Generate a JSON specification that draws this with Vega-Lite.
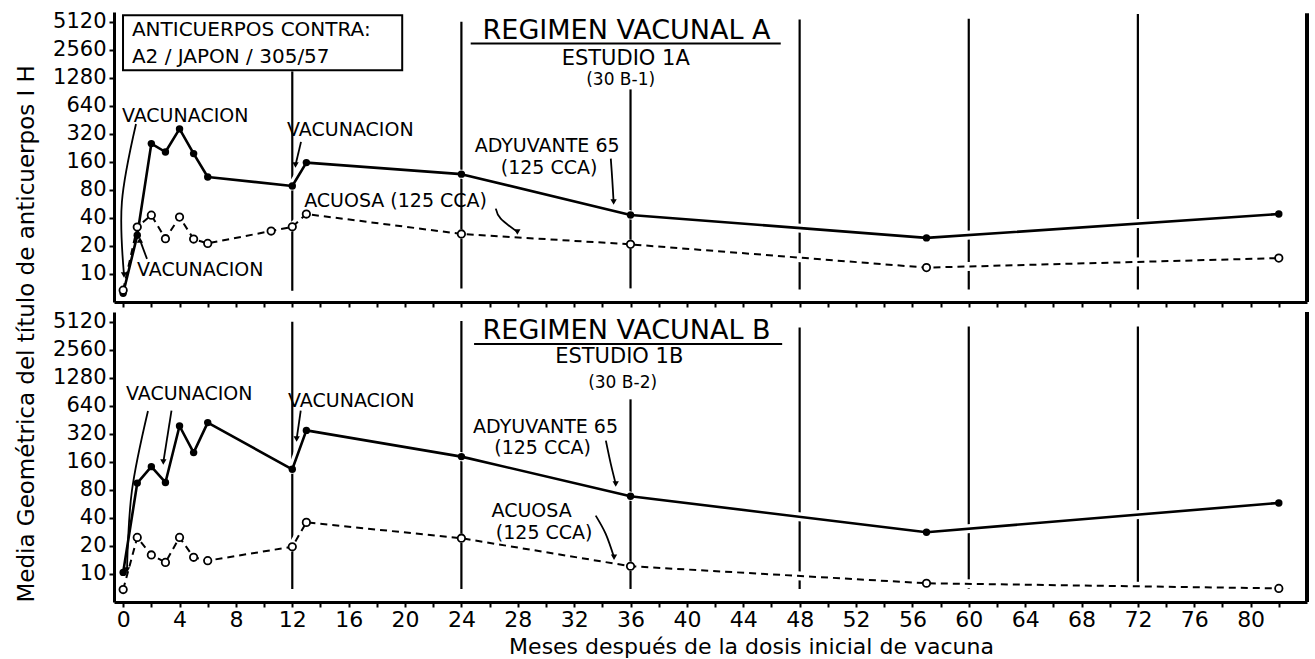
{
  "$schema": "https://vega.github.io/schema/vega-lite/v6.json",
  "background": "white",
  "padding": {"left": 15, "top": 10, "right": 5, "bottom": 3},
  "title": {"text": "Media Geométrica del título de anticuerpos I H", "orient": "left", "anchor": "middle", "fontSize": 23, "fontWeight": "normal", "font": "DejaVu Sans", "color": "black", "offset": 14},
  "spacing": 2,
  "datasets": {
    "series": [
      {"panel": "A", "group": "Adyuvante", "month": 0, "titer": 6.2},
      {"panel": "A", "group": "Adyuvante", "month": 1, "titer": 26},
      {"panel": "A", "group": "Adyuvante", "month": 2, "titer": 251},
      {"panel": "A", "group": "Adyuvante", "month": 3, "titer": 204},
      {"panel": "A", "group": "Adyuvante", "month": 4, "titer": 361},
      {"panel": "A", "group": "Adyuvante", "month": 5, "titer": 196},
      {"panel": "A", "group": "Adyuvante", "month": 6, "titer": 110},
      {"panel": "A", "group": "Adyuvante", "month": 12, "titer": 88},
      {"panel": "A", "group": "Adyuvante", "month": 13, "titer": 157},
      {"panel": "A", "group": "Adyuvante", "month": 24, "titer": 118},
      {"panel": "A", "group": "Adyuvante", "month": 36, "titer": 43},
      {"panel": "A", "group": "Adyuvante", "month": 57, "titer": 24.4},
      {"panel": "A", "group": "Adyuvante", "month": 82, "titer": 44},
      {"panel": "A", "group": "Acuosa", "month": 0, "titer": 6.7},
      {"panel": "A", "group": "Acuosa", "month": 1, "titer": 31.9},
      {"panel": "A", "group": "Acuosa", "month": 2, "titer": 42.8},
      {"panel": "A", "group": "Acuosa", "month": 3, "titer": 23.9},
      {"panel": "A", "group": "Acuosa", "month": 4, "titer": 40.8},
      {"panel": "A", "group": "Acuosa", "month": 5, "titer": 23.7},
      {"panel": "A", "group": "Acuosa", "month": 6, "titer": 21.3},
      {"panel": "A", "group": "Acuosa", "month": 10.5, "titer": 28.9},
      {"panel": "A", "group": "Acuosa", "month": 12, "titer": 32.1},
      {"panel": "A", "group": "Acuosa", "month": 13, "titer": 44},
      {"panel": "A", "group": "Acuosa", "month": 24, "titer": 26.9},
      {"panel": "A", "group": "Acuosa", "month": 36, "titer": 20.8},
      {"panel": "A", "group": "Acuosa", "month": 57, "titer": 11.7},
      {"panel": "A", "group": "Acuosa", "month": 82, "titer": 14.8},
      {"panel": "B", "group": "Adyuvante", "month": 0, "titer": 10.4},
      {"panel": "B", "group": "Adyuvante", "month": 1, "titer": 94.5},
      {"panel": "B", "group": "Adyuvante", "month": 2, "titer": 142},
      {"panel": "B", "group": "Adyuvante", "month": 3, "titer": 96},
      {"panel": "B", "group": "Adyuvante", "month": 4, "titer": 388},
      {"panel": "B", "group": "Adyuvante", "month": 5, "titer": 201},
      {"panel": "B", "group": "Adyuvante", "month": 6, "titer": 422},
      {"panel": "B", "group": "Adyuvante", "month": 12, "titer": 133},
      {"panel": "B", "group": "Adyuvante", "month": 13, "titer": 348},
      {"panel": "B", "group": "Adyuvante", "month": 24, "titer": 182},
      {"panel": "B", "group": "Adyuvante", "month": 36, "titer": 68.3},
      {"panel": "B", "group": "Adyuvante", "month": 57, "titer": 28.1},
      {"panel": "B", "group": "Adyuvante", "month": 82, "titer": 57.9},
      {"panel": "B", "group": "Acuosa", "month": 0, "titer": 6.8},
      {"panel": "B", "group": "Acuosa", "month": 1, "titer": 24.7},
      {"panel": "B", "group": "Acuosa", "month": 2, "titer": 16},
      {"panel": "B", "group": "Acuosa", "month": 3, "titer": 13.3},
      {"panel": "B", "group": "Acuosa", "month": 4, "titer": 24.7},
      {"panel": "B", "group": "Acuosa", "month": 5, "titer": 15.1},
      {"panel": "B", "group": "Acuosa", "month": 6, "titer": 13.9},
      {"panel": "B", "group": "Acuosa", "month": 12, "titer": 19.6},
      {"panel": "B", "group": "Acuosa", "month": 13, "titer": 35.8},
      {"panel": "B", "group": "Acuosa", "month": 24, "titer": 24.2},
      {"panel": "B", "group": "Acuosa", "month": 36, "titer": 12.1},
      {"panel": "B", "group": "Acuosa", "month": 57, "titer": 7.95},
      {"panel": "B", "group": "Acuosa", "month": 82, "titer": 7.0}
    ],
    "vlines": [
      {"panel": "A", "month": 12, "titer": 1496, "titer2": 6.6},
      {"panel": "A", "month": 24, "titer": 5100, "titer2": 7},
      {"panel": "A", "month": 36, "titer": 959, "titer2": 7},
      {"panel": "A", "month": 48, "titer": 5400, "titer2": 6.8},
      {"panel": "A", "month": 60, "titer": 5500, "titer2": 6.8},
      {"panel": "A", "month": 72, "titer": 6200, "titer2": 6.8},
      {"panel": "B", "month": 12, "titer": 5120, "titer2": 6.9},
      {"panel": "B", "month": 24, "titer": 5200, "titer2": 6.9},
      {"panel": "B", "month": 36, "titer": 750, "titer2": 6.9},
      {"panel": "B", "month": 48, "titer": 4430, "titer2": 6.9},
      {"panel": "B", "month": 60, "titer": 4540, "titer2": 6.9},
      {"panel": "B", "month": 72, "titer": 4540, "titer2": 6.9}
    ],
    "frame": [
      {"panel": "A", "month": 84, "titer": 6300, "titer2": 5},
      {"panel": "B", "month": 84, "titer": 6500, "titer2": 5}
    ],
    "arrows": [
      {"panel": "A", "id": "A1", "seq": 1, "month": 0.91, "titer": 408},
      {"panel": "A", "id": "A1", "seq": 2, "month": -0.09, "titer": 59.3},
      {"panel": "A", "id": "A1", "seq": 3, "month": 0.06, "titer": 9.75},
      {"panel": "A", "id": "A2", "seq": 1, "month": 1.69, "titer": 14.5},
      {"panel": "A", "id": "A2", "seq": 2, "month": 1.19, "titer": 23.2},
      {"panel": "A", "id": "A3", "seq": 1, "month": 12.62, "titer": 262},
      {"panel": "A", "id": "A3", "seq": 2, "month": 12.23, "titer": 148},
      {"panel": "A", "id": "A4", "seq": 1, "month": 34.6, "titer": 173},
      {"panel": "A", "id": "A4", "seq": 2, "month": 34.7, "titer": 106},
      {"panel": "A", "id": "A4", "seq": 3, "month": 34.8, "titer": 59.3},
      {"panel": "A", "id": "A5", "seq": 1, "month": 26.44, "titer": 50.3},
      {"panel": "A", "id": "A5", "seq": 2, "month": 26.79, "titer": 39.2},
      {"panel": "A", "id": "A5", "seq": 3, "month": 27.97, "titer": 28.3},
      {"panel": "B", "id": "B1", "seq": 1, "month": 1.76, "titer": 563},
      {"panel": "B", "id": "B1", "seq": 2, "month": 0.62, "titer": 77.9},
      {"panel": "B", "id": "B1", "seq": 3, "month": 0.27, "titer": 11},
      {"panel": "B", "id": "B2", "seq": 1, "month": 3.43, "titer": 567},
      {"panel": "B", "id": "B2", "seq": 2, "month": 2.85, "titer": 159},
      {"panel": "B", "id": "B3", "seq": 1, "month": 12.6, "titer": 567},
      {"panel": "B", "id": "B3", "seq": 2, "month": 12.31, "titer": 282},
      {"panel": "B", "id": "B4", "seq": 1, "month": 34.25, "titer": 270},
      {"panel": "B", "id": "B4", "seq": 2, "month": 34.6, "titer": 152},
      {"panel": "B", "id": "B4", "seq": 3, "month": 34.95, "titer": 92.7},
      {"panel": "B", "id": "B5", "seq": 1, "month": 33.53, "titer": 42.3},
      {"panel": "B", "id": "B5", "seq": 2, "month": 34.24, "titer": 26.9},
      {"panel": "B", "id": "B5", "seq": 3, "month": 34.83, "titer": 15.1}
    ],
    "tips": [
      {"panel": "A", "dir": "down", "month": 0.06, "titer": 9.75},
      {"panel": "A", "dir": "up", "month": 1.19, "titer": 23.2},
      {"panel": "A", "dir": "down", "month": 12.23, "titer": 148},
      {"panel": "A", "dir": "down", "month": 34.8, "titer": 59.3},
      {"panel": "A", "dir": "down", "month": 27.97, "titer": 28.3},
      {"panel": "B", "dir": "down", "month": 0.27, "titer": 11},
      {"panel": "B", "dir": "down", "month": 2.85, "titer": 159},
      {"panel": "B", "dir": "down", "month": 12.31, "titer": 282},
      {"panel": "B", "dir": "down", "month": 34.95, "titer": 92.7},
      {"panel": "B", "dir": "down", "month": 34.83, "titer": 15.1}
    ],
    "notes": [
      {"panel": "A", "month": -0.09, "titer": 498, "text": "VACUNACION"},
      {"panel": "A", "month": 11.63, "titer": 348, "text": "VACUNACION"},
      {"panel": "A", "month": 0.98, "titer": 11.0, "text": "VACUNACION"},
      {"panel": "B", "month": 0.2, "titer": 847, "text": "VACUNACION"},
      {"panel": "B", "month": 11.7, "titer": 712, "text": "VACUNACION"}
    ],
    "boxtext": [
      {"panel": "A", "month": 0.62, "titer": 4143, "text": "ANTICUERPOS CONTRA:"},
      {"panel": "A", "month": 0.62, "titer": 2141, "text": "A2 / JAPON / 305/57"}
    ],
    "callouts": [
      {"panel": "A", "month": 30.08, "titer": 236, "text": "ADYUVANTE 65"},
      {"panel": "A", "month": 30.22, "titer": 138, "text": "(125 CCA)"},
      {"panel": "A", "month": 19.33, "titer": 60.8, "text": "ACUOSA (125 CCA)"},
      {"panel": "B", "month": 29.97, "titer": 378, "text": "ADYUVANTE 65"},
      {"panel": "B", "month": 29.76, "titer": 227, "text": "(125 CCA)"},
      {"panel": "B", "month": 28.98, "titer": 47.8, "text": "ACUOSA"},
      {"panel": "B", "month": 29.87, "titer": 27.6, "text": "(125 CCA)"}
    ],
    "headings": [
      {"panel": "A", "month": 35.72, "titer": 4023, "text": "REGIMEN VACUNAL A"},
      {"panel": "B", "month": 35.72, "titer": 4071, "text": "REGIMEN VACUNAL B"}
    ],
    "studies": [
      {"panel": "A", "month": 35.66, "titer": 2052, "text": "ESTUDIO 1A"},
      {"panel": "B", "month": 35.2, "titer": 2125, "text": "ESTUDIO 1B"}
    ],
    "codes": [
      {"panel": "A", "month": 35.3, "titer": 1212, "text": "(30 B-1)"},
      {"panel": "B", "month": 35.44, "titer": 1111, "text": "(30 B-2)"}
    ],
    "underlines": [
      {"panel": "A", "month": 24.66, "month2": 46.66, "titer": 2975},
      {"panel": "B", "month": 24.9, "month2": 46.76, "titer": 2953}
    ],
    "box": [
      {"panel": "A", "month": -0.01, "month2": 19.8, "titer": 6000, "titer2": 1541}
    ]
  },
  "vconcat": [
    {
      "width": 1193,
      "height": 290,
      "encoding": {
        "x": {"field": "month", "type": "quantitative", "scale": {"domain": [-0.65, 84], "nice": false, "zero": false},
              "axis": {"values": [0,2,4,6,8,10,12,14,16,18,20,22,24,26,28,30,32,34,36,38,40,42,44,46,48,50,52,54,56,58,60,62,64,66,68,70,72,74,76,78,80,82], "labels": false, "title": null}},
        "y": {"field": "titer", "type": "quantitative", "scale": {"type": "log", "domain": [5, 6500], "nice": false},
              "axis": {"values": [10,20,40,80,160,320,640,1280,2560,5120], "format": "d", "title": null}}
      },
      "layer": [
        {"data": {"name": "vlines"}, "transform": [{"filter": "datum.panel === 'A'"}], "mark": {"type": "rule", "strokeWidth": 2.2, "color": "black"}, "encoding": {"y2": {"field": "titer2"}}},
        {"data": {"name": "frame"}, "transform": [{"filter": "datum.panel === 'A'"}], "mark": {"type": "rule", "strokeWidth": 4, "color": "black"}, "encoding": {"y2": {"field": "titer2"}}},
        {"data": {"name": "series"}, "transform": [{"filter": "datum.panel === 'A'"}], "mark": {"type": "line", "strokeWidth": 9, "strokeJoin": "round", "color": "white"}, "encoding": {"detail": {"field": "group"}}},
        {"data": {"name": "series"}, "transform": [{"filter": "datum.panel === 'A' && datum.group === 'Adyuvante'"}], "mark": {"type": "line", "strokeWidth": 2.6, "color": "black", "strokeJoin": "round"}, "encoding": {}},
        {"data": {"name": "series"}, "transform": [{"filter": "datum.panel === 'A' && datum.group === 'Acuosa'"}], "mark": {"type": "line", "strokeWidth": 2, "color": "black", "strokeDash": [7, 5], "strokeJoin": "round"}, "encoding": {}},
        {"data": {"name": "series"}, "transform": [{"filter": "datum.panel === 'A' && datum.group === 'Adyuvante'"}], "mark": {"type": "point", "shape": "circle", "filled": true, "size": 55, "color": "black", "opacity": 1}, "encoding": {}},
        {"data": {"name": "series"}, "transform": [{"filter": "datum.panel === 'A' && datum.group === 'Acuosa'"}], "mark": {"type": "point", "shape": "circle", "filled": true, "fill": "white", "stroke": "black", "strokeWidth": 1.8, "size": 55, "opacity": 1}, "encoding": {}},
        {"data": {"name": "arrows"}, "transform": [{"filter": "datum.panel === 'A'"}], "mark": {"type": "line", "strokeWidth": 1.8, "color": "black", "interpolate": "cardinal", "strokeJoin": "round"}, "encoding": {"detail": {"field": "id"}, "order": {"field": "seq"}}},
        {"data": {"name": "tips"}, "transform": [{"filter": "datum.panel === 'A' && datum.dir === 'down'"}], "mark": {"type": "point", "shape": "triangle-down", "filled": true, "size": 40, "color": "black", "opacity": 1}, "encoding": {}},
        {"data": {"name": "tips"}, "transform": [{"filter": "datum.panel === 'A' && datum.dir === 'up'"}], "mark": {"type": "point", "shape": "triangle-up", "filled": true, "size": 40, "color": "black", "opacity": 1}, "encoding": {}},
        {"data": {"name": "box"}, "transform": [{"filter": "datum.panel === 'A'"}], "mark": {"type": "rect", "fill": "white", "stroke": "black", "strokeWidth": 2}, "encoding": {"x2": {"field": "month2"}, "y2": {"field": "titer2"}}},
        {"data": {"name": "underlines"}, "transform": [{"filter": "datum.panel === 'A'"}], "mark": {"type": "rule", "strokeWidth": 2, "color": "black"}, "encoding": {"x2": {"field": "month2"}}},
        {"data": {"name": "notes"}, "transform": [{"filter": "datum.panel === 'A'"}], "mark": {"type": "text", "align": "left", "baseline": "middle", "font": "DejaVu Sans", "fontSize": 19, "color": "black"}, "encoding": {"text": {"field": "text"}}},
        {"data": {"name": "boxtext"}, "transform": [{"filter": "datum.panel === 'A'"}], "mark": {"type": "text", "align": "left", "baseline": "middle", "font": "DejaVu Sans", "fontSize": 20, "color": "black"}, "encoding": {"text": {"field": "text"}}},
        {"data": {"name": "callouts"}, "transform": [{"filter": "datum.panel === 'A'"}], "mark": {"type": "text", "align": "center", "baseline": "middle", "font": "DejaVu Sans", "fontSize": 19, "color": "black"}, "encoding": {"text": {"field": "text"}}},
        {"data": {"name": "headings"}, "transform": [{"filter": "datum.panel === 'A'"}], "mark": {"type": "text", "align": "center", "baseline": "middle", "font": "DejaVu Sans", "fontSize": 27, "color": "black"}, "encoding": {"text": {"field": "text"}}},
        {"data": {"name": "studies"}, "transform": [{"filter": "datum.panel === 'A'"}], "mark": {"type": "text", "align": "center", "baseline": "middle", "font": "DejaVu Sans", "fontSize": 21, "color": "black"}, "encoding": {"text": {"field": "text"}}},
        {"data": {"name": "codes"}, "transform": [{"filter": "datum.panel === 'A'"}], "mark": {"type": "text", "align": "center", "baseline": "middle", "font": "DejaVu Sans", "fontSize": 17, "color": "black"}, "encoding": {"text": {"field": "text"}}}
      ]
    },
    {
      "width": 1193,
      "height": 290,
      "encoding": {
        "x": {"field": "month", "type": "quantitative", "scale": {"domain": [-0.65, 84], "nice": false, "zero": false},
              "axis": {"values": [0,2,4,6,8,10,12,14,16,18,20,22,24,26,28,30,32,34,36,38,40,42,44,46,48,50,52,54,56,58,60,62,64,66,68,70,72,74,76,78,80,82], "labelExpr": "datum.value % 4 === 0 ? datum.label : ''", "labelFontSize": 22, "labelPadding": 2, "title": "Meses después de la dosis inicial de vacuna", "titleFontSize": 22, "titlePadding": 6, "titleX": 637}},
        "y": {"field": "titer", "type": "quantitative", "scale": {"type": "log", "domain": [5, 6500], "nice": false},
              "axis": {"values": [10,20,40,80,160,320,640,1280,2560,5120], "format": "d", "title": null}}
      },
      "layer": [
        {"data": {"name": "vlines"}, "transform": [{"filter": "datum.panel === 'B'"}], "mark": {"type": "rule", "strokeWidth": 2.2, "color": "black"}, "encoding": {"y2": {"field": "titer2"}}},
        {"data": {"name": "frame"}, "transform": [{"filter": "datum.panel === 'B'"}], "mark": {"type": "rule", "strokeWidth": 4, "color": "black"}, "encoding": {"y2": {"field": "titer2"}}},
        {"data": {"name": "series"}, "transform": [{"filter": "datum.panel === 'B'"}], "mark": {"type": "line", "strokeWidth": 9, "strokeJoin": "round", "color": "white"}, "encoding": {"detail": {"field": "group"}}},
        {"data": {"name": "series"}, "transform": [{"filter": "datum.panel === 'B' && datum.group === 'Adyuvante'"}], "mark": {"type": "line", "strokeWidth": 2.6, "color": "black", "strokeJoin": "round"}, "encoding": {}},
        {"data": {"name": "series"}, "transform": [{"filter": "datum.panel === 'B' && datum.group === 'Acuosa'"}], "mark": {"type": "line", "strokeWidth": 2, "color": "black", "strokeDash": [7, 5], "strokeJoin": "round"}, "encoding": {}},
        {"data": {"name": "series"}, "transform": [{"filter": "datum.panel === 'B' && datum.group === 'Adyuvante'"}], "mark": {"type": "point", "shape": "circle", "filled": true, "size": 55, "color": "black", "opacity": 1}, "encoding": {}},
        {"data": {"name": "series"}, "transform": [{"filter": "datum.panel === 'B' && datum.group === 'Acuosa'"}], "mark": {"type": "point", "shape": "circle", "filled": true, "fill": "white", "stroke": "black", "strokeWidth": 1.8, "size": 55, "opacity": 1}, "encoding": {}},
        {"data": {"name": "arrows"}, "transform": [{"filter": "datum.panel === 'B'"}], "mark": {"type": "line", "strokeWidth": 1.8, "color": "black", "interpolate": "cardinal", "strokeJoin": "round"}, "encoding": {"detail": {"field": "id"}, "order": {"field": "seq"}}},
        {"data": {"name": "tips"}, "transform": [{"filter": "datum.panel === 'B' && datum.dir === 'down'"}], "mark": {"type": "point", "shape": "triangle-down", "filled": true, "size": 40, "color": "black", "opacity": 1}, "encoding": {}},
        {"data": {"name": "underlines"}, "transform": [{"filter": "datum.panel === 'B'"}], "mark": {"type": "rule", "strokeWidth": 2, "color": "black"}, "encoding": {"x2": {"field": "month2"}}},
        {"data": {"name": "notes"}, "transform": [{"filter": "datum.panel === 'B'"}], "mark": {"type": "text", "align": "left", "baseline": "middle", "font": "DejaVu Sans", "fontSize": 19, "color": "black"}, "encoding": {"text": {"field": "text"}}},
        {"data": {"name": "callouts"}, "transform": [{"filter": "datum.panel === 'B'"}], "mark": {"type": "text", "align": "center", "baseline": "middle", "font": "DejaVu Sans", "fontSize": 19, "color": "black"}, "encoding": {"text": {"field": "text"}}},
        {"data": {"name": "headings"}, "transform": [{"filter": "datum.panel === 'B'"}], "mark": {"type": "text", "align": "center", "baseline": "middle", "font": "DejaVu Sans", "fontSize": 27, "color": "black"}, "encoding": {"text": {"field": "text"}}},
        {"data": {"name": "studies"}, "transform": [{"filter": "datum.panel === 'B'"}], "mark": {"type": "text", "align": "center", "baseline": "middle", "font": "DejaVu Sans", "fontSize": 21, "color": "black"}, "encoding": {"text": {"field": "text"}}},
        {"data": {"name": "codes"}, "transform": [{"filter": "datum.panel === 'B'"}], "mark": {"type": "text", "align": "center", "baseline": "middle", "font": "DejaVu Sans", "fontSize": 17, "color": "black"}, "encoding": {"text": {"field": "text"}}}
      ]
    }
  ],
  "config": {
    "view": {"stroke": null},
    "axis": {"grid": false, "domainColor": "black", "domainWidth": 3, "tickColor": "black", "tickWidth": 2, "tickSize": 5, "labelColor": "black", "labelFont": "DejaVu Sans", "labelFontSize": 21, "labelPadding": 3, "labelFlush": false, "labelOverlap": false, "titleFont": "DejaVu Sans", "titleColor": "black", "titleFontWeight": "normal", "minExtent": 0}
  }
}
